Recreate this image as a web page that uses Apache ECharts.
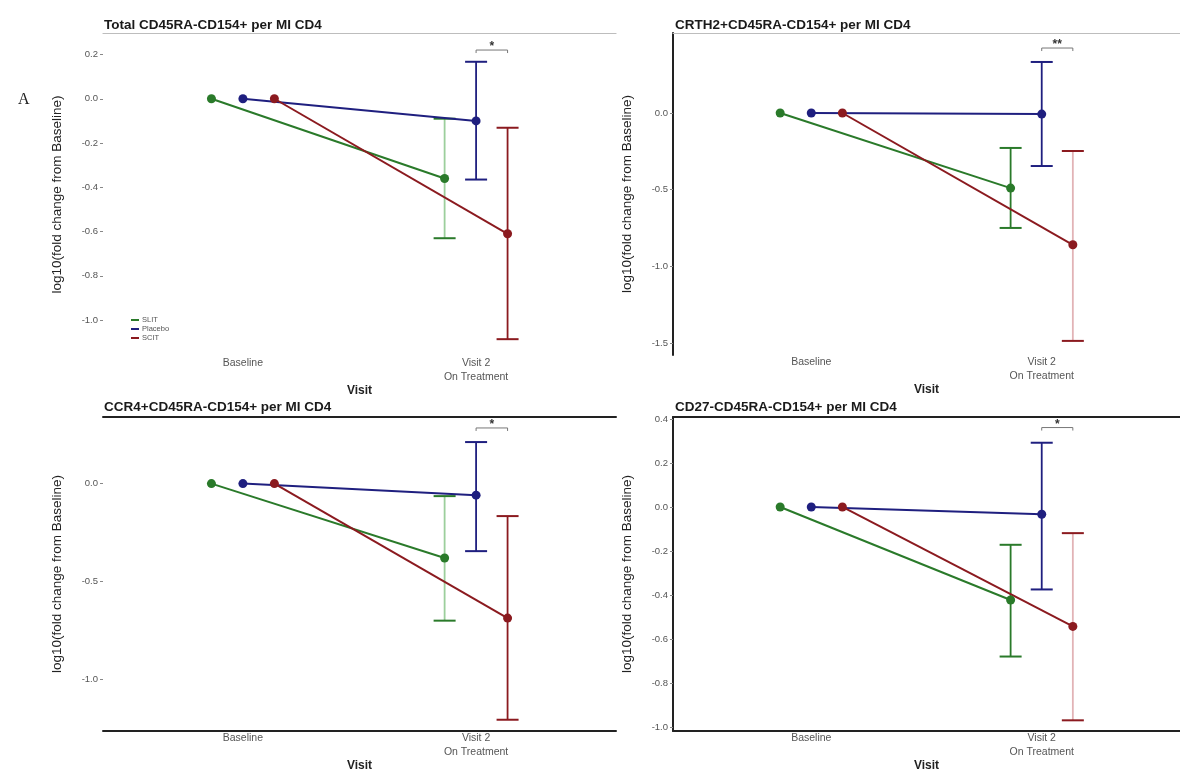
<!DOCTYPE html>
<html><head><meta charset="utf-8">
<script src="https://cdn.jsdelivr.net/npm/echarts@6/dist/echarts.min.js"></script>
<style>html,body{margin:0;padding:0;background:#fff}#c{width:1180px;height:773px}</style>
</head><body><div id="c"></div>
<script>
// ---------- data ----------
const visits = ['Baseline', 'Visit 2\nOn Treatment'];
const groups = ['SLIT', 'Placebo', 'SCIT'];
const panelTitles = [
  'Total CD45RA-CD154+ per MI CD4',
  'CRTH2+CD45RA-CD154+ per MI CD4',
  'CCR4+CD45RA-CD154+ per MI CD4',
  'CD27-CD45RA-CD154+ per MI CD4'
];
const baselineMean = [0, 0, 0];
// visit 2 values per panel, order [SLIT, Placebo, SCIT]
const visit2Mean = [[-0.36, -0.10, -0.61], [-0.49, -0.007, -0.86], [-0.38, -0.059, -0.687], [-0.423, -0.033, -0.543]];
const visit2Low  = [[-0.63, -0.365, -1.086], [-0.75, -0.346, -1.487], [-0.70, -0.345, -1.206], [-0.68, -0.375, -0.97]];
const visit2High = [[-0.09, 0.167, -0.131], [-0.228, 0.333, -0.248], [-0.064, 0.212, -0.166], [-0.172, 0.292, -0.119]];
const sigLabels = ['*', '**', '*', '*'];
const sigLevel = [0.22, 0.424, 0.284, 0.361];
const yTickValues = [[0.2, 0, -0.2, -0.4, -0.6, -0.8, -1.0], [0, -0.5, -1.0, -1.5], [0, -0.5, -1.0], [0.4, 0.2, 0, -0.2, -0.4, -0.6, -0.8, -1.0]];
const yMin = [-1.162, -1.579, -1.264, -1.019];
const yMax = [0.297, 0.522, 0.340, 0.409];

// ---------- style ----------
const colors = ['#2a7a2a', '#1f1f7f', '#8b1a1f'];
const fadedColors = ['#9ccf9c', '#1f1f7f', '#e2b3b6'];
// which error-bar stems look faded in each panel [SLIT, Placebo, SCIT]
const stemFaded = [[1, 0, 0], [0, 0, 1], [1, 0, 0], [0, 0, 1]];
const dodge = [-0.135, 0, 0.135];
const grids = [
  {left: 103, top: 33, width: 513, height: 323},
  {left: 673, top: 33, width: 513, height: 322},
  {left: 103, top: 417, width: 513, height: 316},
  {left: 673, top: 417, width: 513, height: 316}
];
const topLineColor = ['#bdbdbd', '#bdbdbd', '#222', '#222'];
const showLeft = [false, true, false, true];
const showBottom = [false, false, true, true];
const FONT = 'Liberation Sans, Arial, sans-serif';

const xAxes = [], yAxes = [], series = [], titles = [];
for (let p = 0; p < 4; p++) {
  xAxes.push({
    type: 'value', gridIndex: p, min: 0.4, max: 2.6,
    axisLine: {show: showBottom[p], onZero: false, lineStyle: {color: '#222', width: 2}},
    axisTick: {show: false},
    splitLine: {show: false},
    axisLabel: {
      customValues: [1, 2], margin: 0, fontSize: 10.5, color: '#555', fontFamily: FONT, lineHeight: 14,
      formatter: v => visits[Math.round(v) - 1] || ''
    },
    name: 'Visit', nameLocation: 'middle', nameGap: 25,
    nameTextStyle: {fontSize: 12, fontWeight: 'bold', color: '#222', fontFamily: FONT}
  });
  yAxes.push({
    type: 'value', gridIndex: p, min: yMin[p], max: yMax[p],
    axisLine: {show: showLeft[p], onZero: false, lineStyle: {color: '#222', width: 2}},
    axisTick: {show: true, length: 3, customValues: yTickValues[p], lineStyle: {color: '#888'}},
    splitLine: {show: false},
    axisLabel: {customValues: yTickValues[p], fontSize: 9.5, color: '#555', margin: 5, fontFamily: FONT,
      formatter: v => Number(v).toFixed(1)},
    name: 'log10(fold change from Baseline)', nameLocation: 'middle', nameGap: 39,
    nameTextStyle: {fontSize: 13.5, color: '#222', fontFamily: FONT}
  });
  titles.push({
    text: panelTitles[p], left: grids[p].left + (p % 2 ? 2 : 1), top: p < 2 ? 18 : 400, padding: 0,
    textStyle: {fontSize: 13.5, fontWeight: 'bold', color: '#1a1a1a', fontFamily: FONT}
  });
}
// top frame lines
for (let p = 0; p < 4; p++) {
  xAxes.push({
    type: 'value', gridIndex: p, position: 'top', min: 0.4, max: 2.6,
    axisLine: {show: true, onZero: false, lineStyle: {color: topLineColor[p], width: p < 2 ? 1.2 : 2}},
    axisTick: {show: false}, axisLabel: {show: false}, splitLine: {show: false}
  });
}

for (let p = 0; p < 4; p++) {
  // error bars
  const ebData = groups.map((g, gi) => [2 + dodge[gi], visit2Low[p][gi], visit2High[p][gi], gi]);
  series.push({
    type: 'custom', xAxisIndex: p, yAxisIndex: p, data: ebData, silent: true, z: 2,
    renderItem: (params, api) => {
      const x = api.value(0), lo = api.value(1), hi = api.value(2), gi = api.value(3);
      const a = api.coord([x, hi]), b = api.coord([x, lo]);
      const w = 11, c = colors[gi];
      const sc = stemFaded[p][gi] ? fadedColors[gi] : c;
      return {type: 'group', children: [
        {type: 'line', shape: {x1: a[0], y1: a[1], x2: b[0], y2: b[1]}, style: {stroke: sc, lineWidth: 1.8}},
        {type: 'line', shape: {x1: a[0] - w, y1: a[1], x2: a[0] + w, y2: a[1]}, style: {stroke: c, lineWidth: 2}},
        {type: 'line', shape: {x1: b[0] - w, y1: b[1], x2: b[0] + w, y2: b[1]}, style: {stroke: c, lineWidth: 2}}
      ]};
    }
  });
  // lines + points
  groups.forEach((g, gi) => {
    series.push({
      type: 'line', name: g, xAxisIndex: p, yAxisIndex: p, z: 3,
      data: [[1 + dodge[gi], baselineMean[gi]], [2 + dodge[gi], visit2Mean[p][gi]]],
      symbol: 'circle', symbolSize: 9, color: colors[gi],
      lineStyle: {width: 2, color: colors[gi]}, itemStyle: {color: colors[gi]},
      silent: true, animation: false
    });
  });
  // significance bracket between Placebo and SCIT at Visit 2
  series.push({
    type: 'custom', xAxisIndex: p, yAxisIndex: p, silent: true, z: 4,
    data: [[2 + dodge[1], 2 + dodge[2], sigLevel[p]]],
    renderItem: (params, api) => {
      const a = api.coord([api.value(0), api.value(2)]), b = api.coord([api.value(1), api.value(2)]);
      return {type: 'group', children: [
        {type: 'line', shape: {x1: a[0], y1: a[1] + 3, x2: a[0], y2: a[1]}, style: {stroke: '#777', lineWidth: 1}},
        {type: 'line', shape: {x1: a[0], y1: a[1], x2: b[0], y2: b[1]}, style: {stroke: '#777', lineWidth: 1}},
        {type: 'line', shape: {x1: b[0], y1: b[1], x2: b[0], y2: b[1] + 3}, style: {stroke: '#777', lineWidth: 1}},
        {type: 'text', style: {text: sigLabels[p], x: (a[0] + b[0]) / 2, y: a[1] + 3, align: 'center', verticalAlign: 'bottom',
          fontSize: 12, fontWeight: 'bold', fill: '#333', fontFamily: FONT}}
      ]};
    }
  });
}

const chart = echarts.init(document.getElementById('c'), null, {renderer: 'canvas'});
chart.setOption({
  animation: false,
  backgroundColor: '#fff',
  title: titles,
  grid: grids,
  xAxis: xAxes,
  yAxis: yAxes,
  legend: {
    data: groups, orient: 'vertical', left: 126, top: 311, itemGap: 1,
    itemWidth: 8, itemHeight: 2, icon: 'rect', selectedMode: false,
    textStyle: {fontSize: 7.5, color: '#555', fontFamily: FONT, padding: [0, 0, 0, -2]}
  },
  graphic: [{type: 'text', left: 18, top: 92, style: {text: 'A', fontSize: 16, fontFamily: 'Liberation Serif, serif', fill: '#222'}}],
  series: series
});
</script></body></html>
